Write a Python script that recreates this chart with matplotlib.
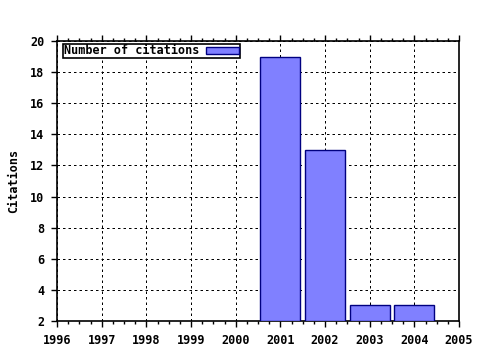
import matplotlib
matplotlib.use("Agg")
import matplotlib.pyplot as plt
from matplotlib.ticker import MultipleLocator

years = [2001, 2002, 2003, 2004]
citations = [19, 13, 3, 3]
xticks = list(range(1996, 2006))
yticks = list(range(2, 21, 2))

plt.rcParams['font.family'] = 'DejaVu Sans Mono'
plt.rcParams['font.weight'] = 'bold'
plt.rcParams['font.size'] = 8.5

fig = plt.figure(figsize=(4.8, 3.5), dpi=100)
ax = fig.add_axes([57 / 480, 29 / 350, 402 / 480, 280 / 350])

ax.bar(years, [c - 2 for c in citations], bottom=2, width=0.9,
       color='#8080ff', edgecolor='#000080', linewidth=1,
       label='Number of citations', zorder=3)

ax.set_xlim(1996, 2005)
ax.set_ylim(2, 20)
ax.set_xticks(xticks)
ax.set_yticks(yticks)
ax.set_xticklabels([str(x) for x in xticks], fontweight='bold')
ax.set_yticklabels([str(y) for y in yticks], fontweight='bold')
ax.xaxis.set_minor_locator(MultipleLocator(0.25))
ax.tick_params(axis='x', which='both', direction='out', top=True, bottom=True, width=1)
ax.tick_params(axis='y', which='both', direction='out', left=True, right=False, width=1)
ax.tick_params(which='major', length=4, pad=5)
ax.tick_params(which='minor', length=2)
ax.grid(True, which='major', color='black', linestyle=(0, (2.5, 3)), linewidth=0.72)
for s in ax.spines.values():
    s.set_linewidth(1.2)

ax.set_ylabel('Citations', labelpad=7, fontweight='bold')

leg = ax.legend(loc='upper left', bbox_to_anchor=(0.015, 0.99), frameon=True,
                fancybox=False, borderpad=0.05, handlelength=2.8, handleheight=0.55,
                handletextpad=0.6, borderaxespad=0, markerfirst=False,
                framealpha=1, prop={'weight': 'bold', 'size': 8.5})
leg.get_frame().set_edgecolor('black')
leg.get_frame().set_linewidth(1.2)

fig.savefig('out.png', dpi=100)
